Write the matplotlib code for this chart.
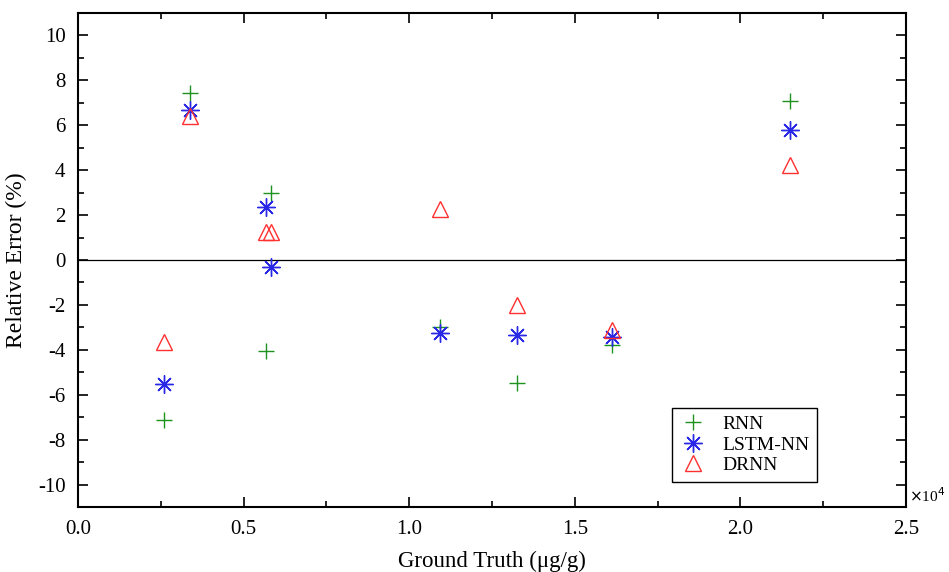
import matplotlib
matplotlib.use("Agg")
import matplotlib.pyplot as plt
from matplotlib.ticker import MultipleLocator, FuncFormatter

plt.rcParams['font.family'] = ['Liberation Serif', 'DejaVu Serif']
plt.rcParams['axes.unicode_minus'] = False

# Ground truth (µg/g) and relative errors (%)
x_rnn = [2600, 3380, 5680, 5830, 10930, 13250, 16130, 21500]
rnn = [-7.14, 7.44, -4.06, 3.0, -2.98, -5.48, -3.8, 7.07]
x_lstm = [2600, 3380, 5680, 5830, 10930, 13250, 16130, 21500]
lstm = [-5.5, 6.67, 2.35, -0.3, -3.27, -3.32, -3.42, 5.8]
x_drnn = [2600, 3380, 5680, 5830, 10930, 13250, 16130, 21500]
drnn = [-3.65, 6.4, 1.26, 1.26, 2.26, -2.0, -3.13, 4.25]

labels = ["RNN", "LSTM-NN", "DRNN"]

fig = plt.figure(figsize=(9.49, 5.72), dpi=100)
ax = fig.add_axes([0.0822, 0.1136, 0.8725, 0.8637])

ax.axhline(0, color='black', lw=0.9, zorder=1)
ax.plot(x_rnn, rnn, ls='none', marker='+', ms=11, mew=1.0, color='#1e921e', label=labels[0])
ax.plot(x_lstm, lstm, ls='none', marker=(8, 2, 0), ms=13, mew=1.0, color='#2828e6', label=labels[1])
ax.plot(x_drnn, drnn, ls='none', marker='^', ms=11, mew=1.0, mfc='none', mec='#ff3030', label=labels[2])

ax.set_xlim(0, 25000)
ax.set_ylim(-11, 11)
ax.xaxis.set_major_locator(MultipleLocator(5000))
ax.xaxis.set_minor_locator(MultipleLocator(2500))
ax.yaxis.set_major_locator(MultipleLocator(2))
ax.yaxis.set_minor_locator(MultipleLocator(1))
ax.xaxis.set_major_formatter(FuncFormatter(lambda v, p: f"{v/1e4:.1f}"))
ax.yaxis.set_major_formatter(FuncFormatter(lambda v, p: f"{int(round(v))}"))

ax.tick_params(which='both', direction='in', top=True, right=True, width=1.2, labelsize=15)
ax.tick_params(which='major', length=7, pad=9)
ax.tick_params(which='minor', length=4)
for s in ax.spines.values():
    s.set_linewidth(1.5)

ax.set_xlabel("Ground Truth (μg/g)", fontsize=16.5, labelpad=9)
ax.set_ylabel("Relative Error (%)", fontsize=17, labelpad=8)

fig.text(0.9575, 0.134, r"$\times$10$^{4}$", fontsize=11, ha='left', va='center')

leg = ax.legend(loc='upper left', bbox_to_anchor=(0.717, 0.201), fontsize=14,
                frameon=True, fancybox=False, edgecolor='black', framealpha=1,
                borderpad=0.4, handlelength=1.4, handletextpad=0.8, labelspacing=0.15,
                borderaxespad=0)
leg.get_frame().set_linewidth(1.0)

fig.savefig("out.png", dpi=100)
